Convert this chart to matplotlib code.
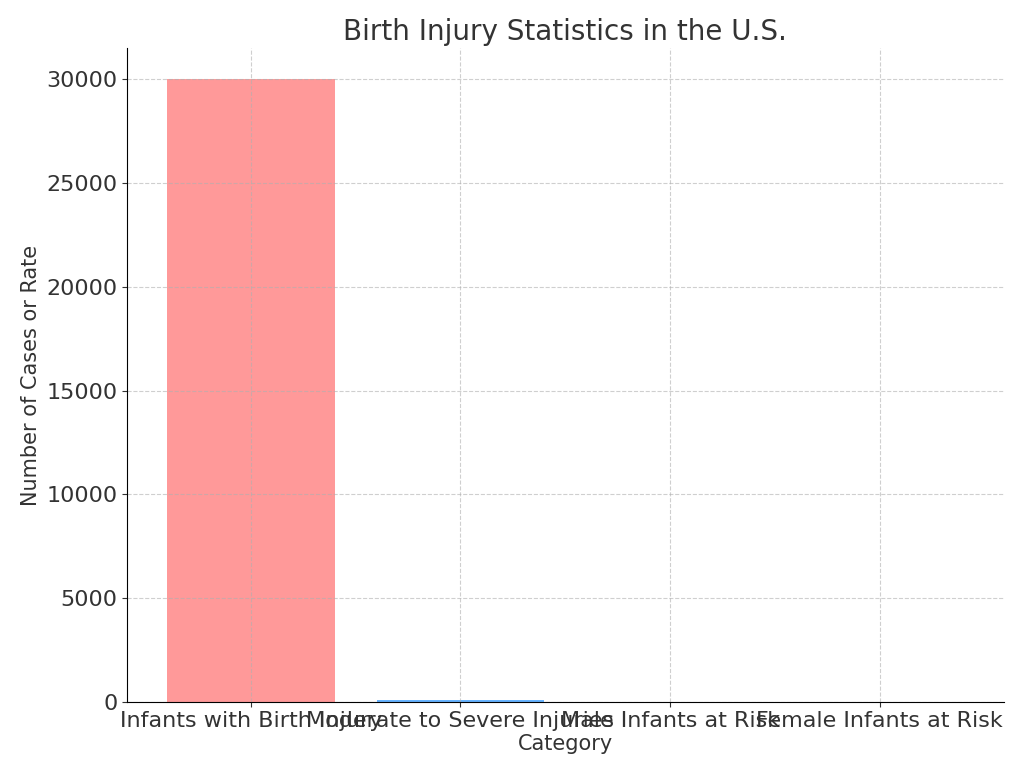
import matplotlib
matplotlib.use("Agg")
import matplotlib.pyplot as plt

categories = ["Infants with Birth Injury", "Moderate to Severe Injuries",
              "Male Infants at Risk", "Female Infants at Risk"]
values = [30000, 80, 0.6, 0.4]
colors = ["#ff9999", "#66b3ff", "#99ff99", "#ffcc99"]

fig, ax = plt.subplots(figsize=(10.24, 7.78), dpi=100)
fig.subplots_adjust(left=0.124, right=0.98, top=0.938, bottom=0.098)
ax.bar(categories, values, color=colors)
ax.set_title("Birth Injury Statistics in the U.S.", fontsize=20, color="#333333")
ax.set_xlabel("Category", fontsize=15, color="#333333", labelpad=2)
ax.set_ylabel("Number of Cases or Rate", fontsize=15, color="#333333")
ax.tick_params(labelsize=16, colors="#333333")
ax.grid(True, linestyle="--", alpha=0.6)
for s in ["top", "right"]:
    ax.spines[s].set_visible(False)
fig.savefig("out.png")
